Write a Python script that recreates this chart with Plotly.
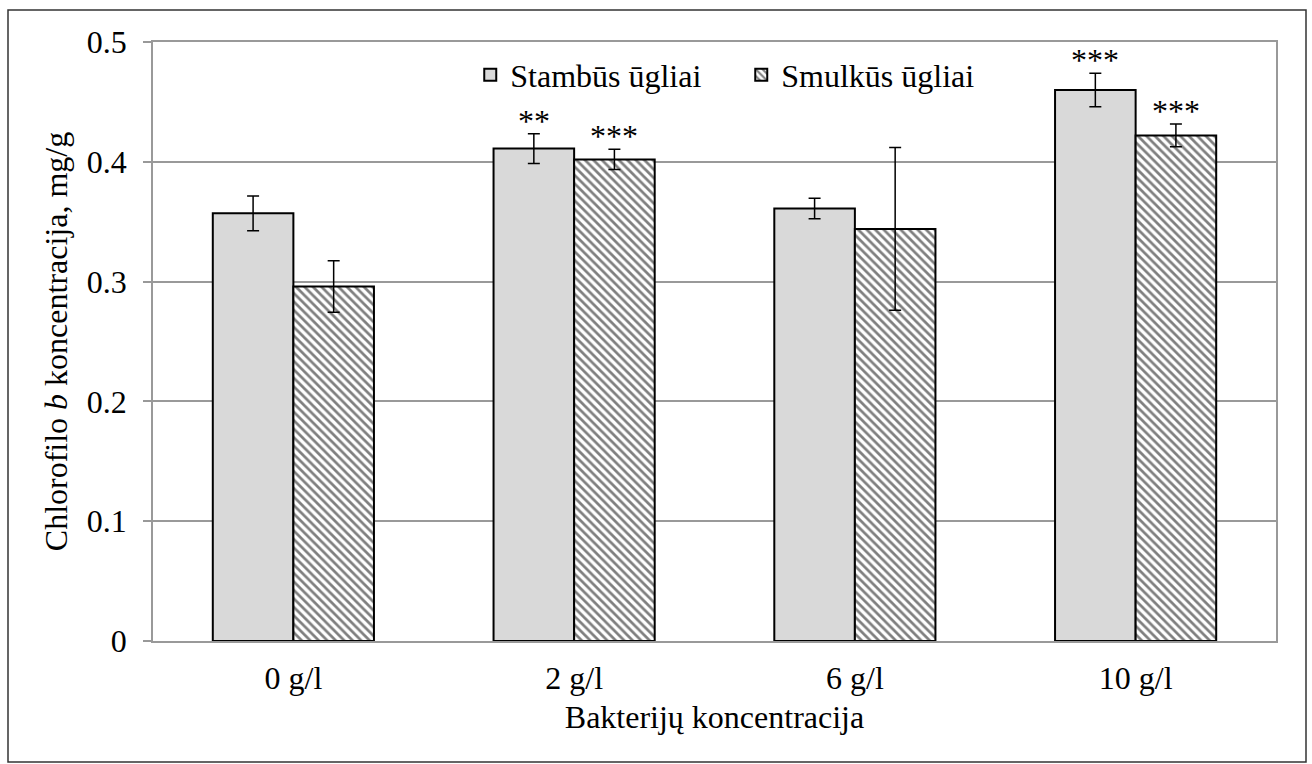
import plotly.graph_objects as go

categories = ["0 g/l", "2 g/l", "6 g/l", "10 g/l"]
stambus = [0.357, 0.411, 0.361, 0.460]
stambus_err = [0.0145, 0.0125, 0.0085, 0.014]
smulkus = [0.296, 0.402, 0.344, 0.422]
smulkus_err = [0.0215, 0.0085, 0.068, 0.0095]
stambus_sig = ["", "**", "", "***"]
smulkus_sig = ["", "***", "", "***"]

FONT = "Liberation Serif"
FS = 32
BARGAP = 0.426

fig = go.Figure()
fig.add_trace(go.Bar(
    name="Stambūs ūgliai", x=categories, y=stambus,
    marker=dict(color="#d9d9d9", line=dict(color="black", width=2)),
    error_y=dict(type="data", array=stambus_err, color="black", thickness=1.5, width=6),
))
fig.add_trace(go.Bar(
    name="Smulkūs ūgliai", x=categories, y=smulkus,
    marker=dict(color="white", line=dict(color="black", width=2),
                pattern=dict(shape="\\", fgcolor="black", bgcolor="white", size=6, solidity=0.45)),
    error_y=dict(type="data", array=smulkus_err, color="black", thickness=1.5, width=6),
))

off = (1 - BARGAP) / 4
annotations = []
for i in range(len(categories)):
    for sig, val, err, dx in ((stambus_sig[i], stambus[i], stambus_err[i], -off),
                              (smulkus_sig[i], smulkus[i], smulkus_err[i], off)):
        if sig:
            annotations.append(dict(x=i + dx, y=val + err, xref="x", yref="y", text=sig,
                                    showarrow=False, yanchor="bottom", yshift=-7,
                                    font=dict(family=FONT, size=FS, color="black")))

fig.update_layout(
    width=1312, height=764,
    margin=dict(l=153, r=36, t=42, b=123),
    paper_bgcolor="white", plot_bgcolor="white",
    barmode="group", bargap=BARGAP, bargroupgap=0,
    font=dict(family=FONT, size=FS, color="black"),
    showlegend=True,
    legend=dict(orientation="h", x=0.2825, y=0.945, xanchor="left", yanchor="middle",
                entrywidth=226, entrywidthmode="pixels",
                font=dict(family=FONT, size=FS, color="black"), bgcolor="rgba(0,0,0,0)"),
    xaxis=dict(showline=True, linecolor="#999999", linewidth=1.5, mirror=True,
               ticks="", showgrid=False, ticklabelstandoff=8,
               title=dict(text="Bakterijų koncentracija", standoff=10,
                          font=dict(family=FONT, size=FS))),
    yaxis=dict(range=[0, 0.5], dtick=0.1, showline=True, linecolor="#999999", linewidth=1.5,
               mirror=True, ticks="outside", ticklen=8, tickcolor="#999999", tickwidth=1.5,
               showgrid=True, gridcolor="#999999", gridwidth=1.5, zeroline=False,
               ticklabelstandoff=10,
               title=dict(text="Chlorofilo <i>b</i> koncentracija, mg/g", standoff=10,
                          font=dict(family=FONT, size=FS))),
    annotations=annotations,
    shapes=[dict(type="rect", xref="paper", yref="paper",
                 x0=(8 - 153) / 1123, x1=(1306 - 153) / 1123,
                 y0=(641 - 762) / 599, y1=(641 - 10) / 599,
                 line=dict(color="#333333", width=1.5), fillcolor="rgba(0,0,0,0)", layer="below")],
)

fig.write_html("out.html")
